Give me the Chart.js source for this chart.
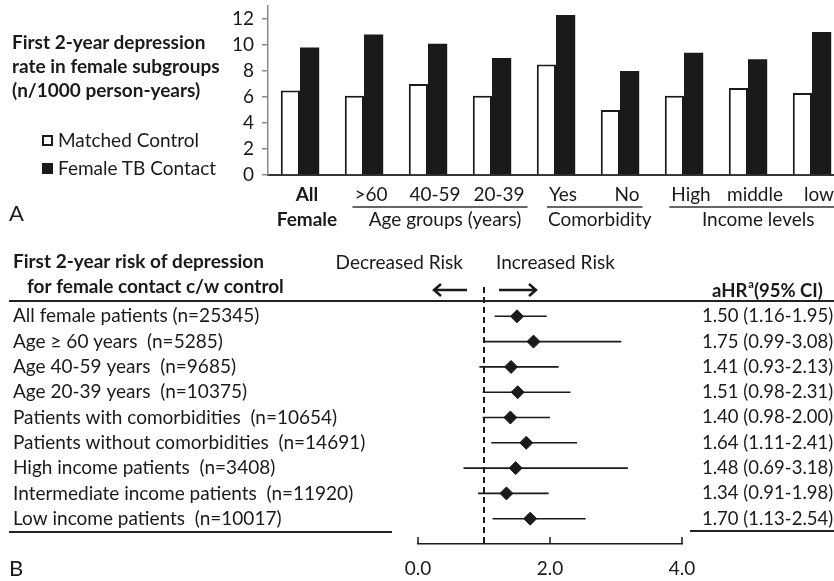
<!DOCTYPE html>
<html>
<head>
<meta charset="utf-8">
<script src="https://cdn.jsdelivr.net/npm/chart.js@4.4.1/dist/chart.umd.min.js"></script>
<style>
  body { margin: 0; background: #fff; overflow: hidden; font-family: Lato, sans-serif; color: #1a1a1a; }
  #page { position: relative; width: 834px; height: 581px; overflow: hidden; }
  #wrapA { position: absolute; left: 0; top: 0; width: 860px; height: 240px; }
  #wrapB { position: absolute; left: 0; top: 240px; width: 834px; height: 341px; }
  .t { position: absolute; white-space: nowrap; font-size: 19px; }
  .box { position: absolute; box-sizing: border-box; width: 11px; height: 11px; border: 2px solid #1a1a1a; }
</style>
</head>
<body>
<div id="page">
  <div id="wrapA"><canvas id="rateChart" width="860" height="240"></canvas></div>
  <div id="wrapB"><canvas id="riskChart" width="834" height="341"></canvas></div>

  <div class="t" style="left:12px;top:30px;font-weight:bold;line-height:24px">First 2-year depression<br>rate in female subgroups<br>(n/1000 person-years)</div>
  <div class="box" style="left:42px;top:135px;background:#fff"></div>
  <div class="t" style="left:58px;top:129px;line-height:22px">Matched Control</div>
  <div class="box" style="left:42px;top:163px;background:#1a1a1a"></div>
  <div class="t" style="left:58px;top:157px;line-height:22px">Female TB Contact</div>
  <div class="t" style="left:9px;top:200px;font-size:22px;line-height:26px">A</div>
  <div class="t" style="left:9px;top:555px;font-size:22px;line-height:26px">B</div>
</div>

<script>
// ---- panel A: depression rate per 1000 person-years ----
const categories = [['All', 'Female'], '>60', '40-59', '20-39', 'Yes', 'No', 'High', 'middle', 'low'];
const controlRate = [6.5, 6.1, 7.0, 6.1, 8.5, 5.0, 6.1, 6.7, 6.3];
const contactRate = [9.8, 10.8, 10.1, 9.0, 12.3, 8.0, 9.4, 8.9, 11.0];
const groupNames = ['Age groups (years)', 'Comorbidity', 'Income levels'];
const groupFirst = [1, 4, 6];
const groupLast = [3, 5, 8];

// ---- panel B: adjusted hazard ratios ----
const subgroups = [
  'All female patients (n=25345)',
  'Age \u2265 60 years  (n=5285)',
  'Age 40-59 years  (n=9685)',
  'Age 20-39 years  (n=10375)',
  'Patients with comorbidities  (n=10654)',
  'Patients without comorbidities  (n=14691)',
  'High income patients  (n=3408)',
  'Intermediate income patients  (n=11920)',
  'Low income patients  (n=10017)'
];
const hazardRatio = [1.50, 1.75, 1.41, 1.51, 1.40, 1.64, 1.48, 1.34, 1.70];
const ciLow = [1.16, 0.99, 0.93, 0.98, 0.98, 1.11, 0.69, 0.91, 1.13];
const ciHigh = [1.95, 3.08, 2.13, 2.31, 2.00, 2.41, 3.18, 1.98, 2.54];
const riskTicks = [0, 2, 4];

const INK = '#1a1a1a';
const FONT = 'Lato, sans-serif';
const hrText = hazardRatio.map((v, i) => v.toFixed(2) + ' (' + ciLow[i].toFixed(2) + '-' + ciHigh[i].toFixed(2) + ')');

const groupRows = {
  id: 'groupRows',
  afterDraw(chart) {
    const { ctx, scales: { x } } = chart;
    const off = x.options.ticks.labelOffset;
    const base = x.top;
    ctx.save();
    ctx.font = '19px ' + FONT;
    ctx.fillStyle = INK;
    ctx.strokeStyle = '#333';
    ctx.lineWidth = 1.3;
    ctx.textAlign = 'center';
    ctx.textBaseline = 'middle';
    groupNames.forEach((name, g) => {
      const a = groupFirst[g], b = groupLast[g];
      const x0 = x.getPixelForValue(a) + off - ctx.measureText(categories[a]).width / 2 - 2;
      const x1 = x.getPixelForValue(b) + off + ctx.measureText(categories[b]).width / 2 + 3;
      ctx.beginPath();
      ctx.moveTo(x0, base + 32);
      ctx.lineTo(x1, base + 32);
      ctx.stroke();
      ctx.fillText(name, (x0 + x1) / 2 + 5, base + 45);
    });
    ctx.restore();
  }
};

new Chart(document.getElementById('rateChart'), {
  type: 'bar',
  data: {
    labels: categories,
    datasets: [
      { label: 'Matched Control', data: controlRate, backgroundColor: '#fff', borderColor: INK, borderWidth: 2 },
      { label: 'Female TB Contact', data: contactRate, backgroundColor: INK, borderColor: INK, borderWidth: 0 }
    ]
  },
  options: {
    responsive: false,
    animation: false,
    layout: { padding: { top: 6, right: 16, left: 0, bottom: 0 } },
    datasets: { bar: { categoryPercentage: 0.6, barPercentage: 1.0 } },
    plugins: { legend: { display: false }, tooltip: { enabled: false } },
    scales: {
      x: {
        grid: { display: false, drawTicks: false },
        border: { display: true, color: '#333', width: 2 },
        ticks: {
          color: INK,
          padding: 8,
          labelOffset: 7,
          maxRotation: 0,
          autoSkip: false,
          font: (c) => ({ family: FONT, size: 19, weight: c.index === 0 ? 'bold' : 'normal', lineHeight: 1.3 })
        },
        afterFit(s) { s.height = 65; s.paddingLeft = 0; s.paddingRight = 0; }
      },
      y: {
        min: 0,
        max: 13,
        grid: { drawOnChartArea: false, drawTicks: true, tickLength: 6, color: '#8a8a8a', lineWidth: 1.5 },
        border: { display: true, color: '#8a8a8a', width: 1.5 },
        ticks: { stepSize: 2, includeBounds: false, color: INK, padding: 8, font: { family: FONT, size: 19 } },
        afterFit(s) { s.width = 268; s.paddingTop = 0; s.paddingBottom = 0; }
      }
    }
  },
  plugins: [groupRows]
});

// ---- forest plot ----
const forestDecor = {
  id: 'forestDecor',
  beforeDatasetsDraw(chart) {
    const { ctx, chartArea, scales: { x } } = chart;
    const ref = x.getPixelForValue(1);
    ctx.save();
    ctx.strokeStyle = INK;
    ctx.lineWidth = 2;
    ctx.setLineDash([6, 4]);
    ctx.beginPath();
    ctx.moveTo(ref, 47);
    ctx.lineTo(ref, chartArea.bottom);
    ctx.stroke();
    ctx.restore();
  },
  afterDraw(chart) {
    const { ctx, chartArea, scales: { x } } = chart;
    const ref = x.getPixelForValue(1);
    ctx.save();
    ctx.fillStyle = INK;
    ctx.strokeStyle = INK;
    ctx.textBaseline = 'middle';

    // upward tick marks on the HR axis
    ctx.lineWidth = 1.5;
    riskTicks.forEach(v => {
      const px = x.getPixelForValue(v);
      ctx.beginPath();
      ctx.moveTo(px, chartArea.bottom);
      ctx.lineTo(px, chartArea.bottom - 7);
      ctx.stroke();
    });

    // header
    ctx.font = 'bold 19px ' + FONT;
    ctx.textAlign = 'left';
    ctx.fillText('First 2-year risk of depression', 13, 22);
    ctx.fillText('for female contact c/w control', 27, 47);
    ctx.font = '19px ' + FONT;
    ctx.textAlign = 'right';
    ctx.fillText('Decreased Risk', ref - 21, 23);
    ctx.textAlign = 'left';
    ctx.fillText('Increased Risk', ref + 12, 23);

    ctx.font = 'bold 18.5px ' + FONT;
    let hx = 712;
    ctx.fillText('aHR', hx, 51);
    hx += ctx.measureText('aHR').width + 1;
    ctx.font = 'bold 11px ' + FONT;
    ctx.fillText('a', hx, 44);
    hx += ctx.measureText('a').width;
    ctx.font = 'bold 18.5px ' + FONT;
    ctx.fillText('(95% CI)', hx, 51);

    // arrows
    ctx.lineWidth = 2.5;
    ctx.beginPath();
    ctx.moveTo(ref - 17, 50); ctx.lineTo(ref - 50, 50);
    ctx.moveTo(ref - 43, 44); ctx.lineTo(ref - 50, 50); ctx.lineTo(ref - 43, 56);
    ctx.moveTo(ref + 15, 50); ctx.lineTo(ref + 52, 50);
    ctx.moveTo(ref + 45, 44); ctx.lineTo(ref + 52, 50); ctx.lineTo(ref + 45, 56);
    ctx.stroke();

    // rules
    ctx.lineWidth = 2;
    ctx.strokeStyle = '#222';
    ctx.beginPath();
    ctx.moveTo(9, 61); ctx.lineTo(834, 61);
    ctx.moveTo(9, 292); ctx.lineTo(392, 292);
    ctx.moveTo(chartArea.right + 8, 291); ctx.lineTo(834, 291);
    ctx.stroke();
    ctx.restore();
  }
};

const ciSets = hazardRatio.map((v, i) => ({
  type: 'line',
  data: [{ x: ciLow[i], y: i + 1 }, { x: ciHigh[i], y: i + 1 }],
  borderColor: INK,
  borderWidth: 1.6,
  pointRadius: 0,
  fill: false
}));

new Chart(document.getElementById('riskChart'), {
  type: 'scatter',
  data: {
    datasets: [
      ...ciSets,
      {
        data: hazardRatio.map((v, i) => ({ x: v, y: i + 1 })),
        pointStyle: 'rectRot',
        pointRadius: 6.5,
        backgroundColor: INK,
        borderColor: INK,
        borderWidth: 1
      }
    ]
  },
  options: {
    responsive: false,
    animation: false,
    layout: { padding: { top: 51, left: 13, right: 0, bottom: 0 } },
    plugins: { legend: { display: false }, tooltip: { enabled: false } },
    scales: {
      x: {
        type: 'linear',
        min: 0,
        max: 4,
        grid: { display: false, drawTicks: false },
        border: { display: true, color: INK, width: 1.5 },
        ticks: { stepSize: 2, color: INK, padding: 13, font: { family: FONT, size: 19 }, callback: v => v.toFixed(1) },
        afterFit(s) { s.height = 37; }
      },
      y: {
        type: 'linear',
        min: 0,
        max: 10,
        reverse: true,
        grid: { display: false, drawTicks: false },
        border: { display: false },
        ticks: { stepSize: 1, autoSkip: false, crossAlign: 'far', color: INK, font: { family: FONT, size: 19 }, callback: v => subgroups[v - 1] || '' },
        afterFit(s) { s.width = 405; }
      },
      y2: {
        type: 'linear',
        position: 'right',
        min: 0,
        max: 10,
        reverse: true,
        grid: { display: false, drawTicks: false },
        border: { display: false },
        ticks: { stepSize: 1, autoSkip: false, crossAlign: 'near', padding: 20, color: INK, font: { family: FONT, size: 18.5 }, callback: v => hrText[v - 1] || '' },
        afterFit(s) { s.width = 152; }
      }
    }
  },
  plugins: [forestDecor]
});
</script>
</body>
</html>
